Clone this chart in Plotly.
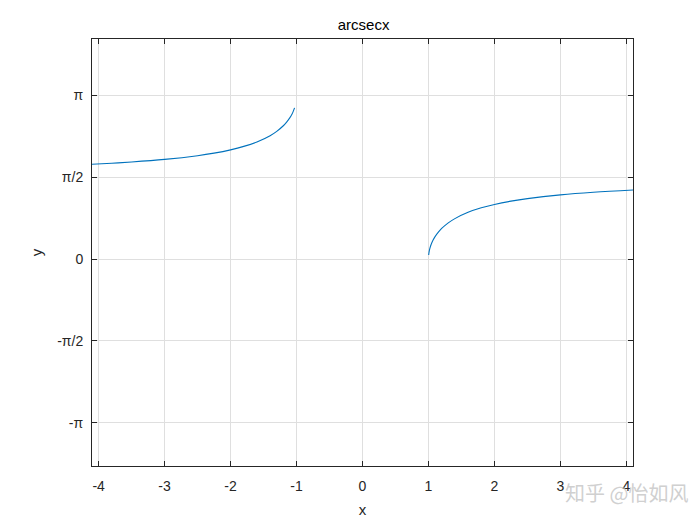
import plotly.graph_objects as go

# Left branch (x < -1)
x_left = [-4.1, -3.8, -3.5, -3.0, -2.5, -2.25, -2.0, -1.8, -1.6, -1.4, -1.3, -1.2, -1.15, -1.1, -1.07, -1.05, -1.03]
y_left = [1.817, 1.837, 1.861, 1.911, 1.982, 2.031, 2.094, 2.160, 2.246, 2.366, 2.449, 2.556, 2.626, 2.712, 2.776, 2.832, 2.899]

# Right branch (x > 1)
x_right = [1.003, 1.01, 1.02, 1.04, 1.07, 1.1, 1.15, 1.2, 1.3, 1.4, 1.6, 1.8, 2.0, 2.25, 2.5, 3.0, 3.5, 4.1]
y_right = [0.077, 0.141, 0.199, 0.278, 0.365, 0.430, 0.516, 0.586, 0.693, 0.775, 0.896, 0.982, 1.047, 1.110, 1.159, 1.231, 1.281, 1.324]

x_ticks = [-4, -3, -2, -1, 0, 1, 2, 3, 4]
PI = 3.141592653589793
y_tickvals = [-PI, -PI / 2, 0, PI / 2, PI]
y_ticktext = ["-π", "-π/2", "0", "π/2", "π"]

color = "#0072BD"
font_family = "Liberation Sans, Arial, sans-serif"

fig = go.Figure()
fig.add_trace(go.Scatter(x=x_left, y=y_left, mode="lines", line=dict(color=color, width=1.1, shape="spline"),
                         showlegend=False, hoverinfo="skip"))
fig.add_trace(go.Scatter(x=x_right, y=y_right, mode="lines", line=dict(color=color, width=1.1, shape="spline"),
                         showlegend=False, hoverinfo="skip"))

axis_common = dict(
    showgrid=True, gridcolor="#dfdfdf", gridwidth=1,
    zeroline=False, showline=True, linecolor="#262626", linewidth=1,
    mirror="ticks", ticks="inside", ticklen=5, tickcolor="#262626",
    tickfont=dict(family=font_family, size=14, color="#262626"),
)

fig.update_layout(
    width=700, height=525,
    margin=dict(l=84, r=75, t=31, b=67),
    paper_bgcolor="white", plot_bgcolor="white",
    title=dict(text="arcsecx", x=0.508, xanchor="center", y=0.968, yanchor="middle",
               font=dict(family=font_family, size=15, color="#000000")),
    xaxis=dict(range=[-4.1, 4.1], tickvals=x_ticks, ticktext=[str(v) for v in x_ticks],
               ticklabelstandoff=7,
               title=dict(text="x", font=dict(family=font_family, size=15, color="#262626"), standoff=11),
               **axis_common),
    yaxis=dict(range=[-3.97, 4.22], tickvals=y_tickvals, ticktext=y_ticktext,
               ticklabelstandoff=5,
               title=dict(text="y", font=dict(family=font_family, size=15, color="#262626"), standoff=10),
               **axis_common),
    annotations=[dict(text="知乎 @怡如风", xref="paper", yref="paper", x=1.105, y=-0.062,
                      xanchor="right", yanchor="middle", showarrow=False,
                      font=dict(family="Noto Sans CJK SC", size=20, color="rgba(195,195,195,0.8)"))],
)

fig.write_html("out.html")
